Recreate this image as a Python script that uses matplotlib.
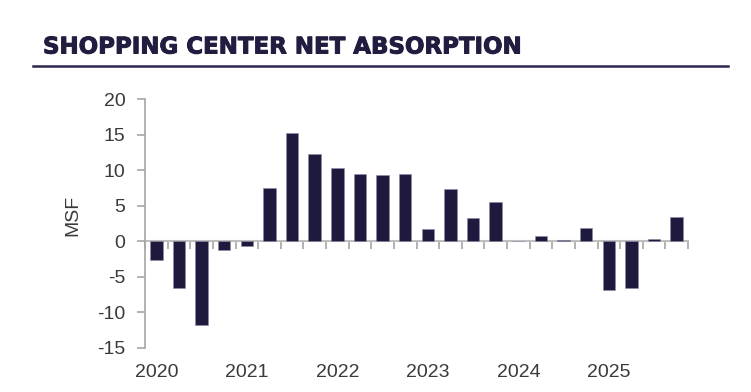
import matplotlib
matplotlib.use("Agg")
import matplotlib.pyplot as plt
import matplotlib.patheffects as pe
from matplotlib.transforms import blended_transform_factory

plt.rcParams["axes.unicode_minus"] = False

quarters = [f"{y}Q{q}" for y in range(2020, 2026) for q in range(1, 5)]
values = [-2.7, -6.5, -11.7, -1.2,
          -0.7, 7.5, 15.2, 12.3,
          10.3, 9.4, 9.3, 9.5,
          1.7, 7.3, 3.3, 5.5,
          0.0, 0.8, 0.2, 1.8,
          -6.9, -6.5, 0.3, 3.4]
year_labels = ["2020", "2021", "2022", "2023", "2024", "2025"]
title = "SHOPPING CENTER NET ABSORPTION"
ylabel = "MSF"

W, H = 751, 392
fig = plt.figure(figsize=(W / 100, H / 100), dpi=100)
ax = fig.add_axes([145 / W, 1 - 348 / H, (688 - 145) / W, (348 - 99) / H])

bar_color = "#1e1a3d"
text_color = "#3a3a3a"
axis_color = "#a6a6a6"

x = list(range(len(values)))
ax.bar(x, values, width=0.55, color=bar_color, edgecolor="#8f8aa8", linewidth=0.4, zorder=3)

ax.set_xlim(-0.5, len(values) - 0.5)
ax.set_ylim(-15, 20)
ax.set_yticks(range(-15, 21, 5))
ax.tick_params(axis="y", labelsize=14, labelcolor=text_color, color=axis_color,
               length=6, width=1.2, pad=8)
for lab in ax.get_yticklabels():
    lab.set_fontfamily("Liberation Sans")

for s in ["top", "right"]:
    ax.spines[s].set_visible(False)
ax.spines["left"].set_color(axis_color)
ax.spines["left"].set_linewidth(1.2)
ax.spines["bottom"].set_position(("data", 0))
ax.spines["bottom"].set_color("#bfbfbf")
ax.spines["bottom"].set_linewidth(1.5)
ax.spines["bottom"].set_zorder(2)

bounds = [i - 0.5 for i in range(len(values) + 1)]
ax.set_xticks(bounds)
ax.set_xticklabels([])
ax.tick_params(axis="x", direction="out", length=6, width=1.2, color=axis_color)

trans = blended_transform_factory(ax.transData, ax.transAxes)
for i, yl in enumerate(year_labels):
    ax.text(i * 4, -0.10, yl, transform=trans, ha="center", va="center",
            fontsize=14, color=text_color, fontfamily="Liberation Sans")

fig.text(73 / W, 1 - 215 / H, ylabel, rotation=90, ha="center", va="center",
         fontsize=14, color=text_color, fontfamily="Liberation Sans")

fig.text(43 / W, 1 - 53.5 / H, title, ha="left", va="baseline",
         fontsize=16.5, fontweight="bold", color="#211d40", fontfamily="DejaVu Sans",
         path_effects=[pe.withStroke(linewidth=0.7, foreground="#211d40")])
fig.add_artist(plt.Line2D([33 / W, 728 / W], [1 - 65.7 / H, 1 - 65.7 / H],
                          color="#2b2650", linewidth=1.8))

fig.savefig("out.png", dpi=100)
